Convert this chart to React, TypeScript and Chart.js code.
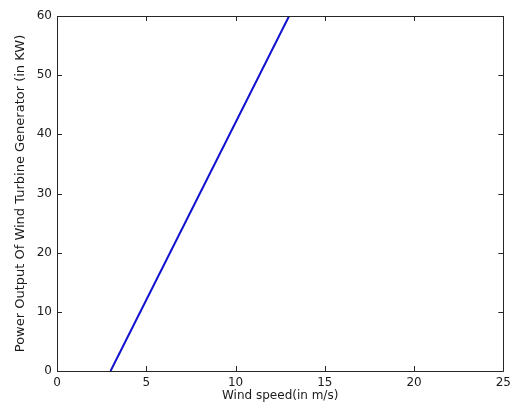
import React, { useEffect, useRef } from "react";
import { Chart, registerables } from "chart.js";

Chart.register(...registerables);

const windSpeed: number[] = [3, 13];
const powerOutput: number[] = [0, 60];
const xTicks: number[] = [0, 5, 10, 15, 20, 25];
const yTicks: number[] = [0, 10, 20, 30, 40, 50, 60];
const xTitle = "Wind speed(in m/s)";
const yTitle = "Power Output Of Wind Turbine Generator (in KW)";

const FONT = "'DejaVu Sans', sans-serif";
const AXIS_COLOR = "#262626";

const boxPlugin = {
  id: "matlabBox",
  afterDraw(chart: any) {
    const { ctx, chartArea, scales } = chart;
    const { left, right, top, bottom } = chartArea;
    ctx.save();
    ctx.strokeStyle = AXIS_COLOR;
    ctx.lineWidth = 1;
    ctx.beginPath();
    ctx.rect(Math.round(left) + 0.5, Math.round(top) + 0.5, Math.round(right - left), Math.round(bottom - top));
    ctx.stroke();
    const len = 5;
    ctx.beginPath();
    xTicks.forEach((v) => {
      const px = Math.round(scales.x.getPixelForValue(v)) + 0.5;
      ctx.moveTo(px, bottom);
      ctx.lineTo(px, bottom - len);
      ctx.moveTo(px, top);
      ctx.lineTo(px, top + len);
    });
    yTicks.forEach((v) => {
      const py = Math.round(scales.y.getPixelForValue(v)) + 0.5;
      ctx.moveTo(left, py);
      ctx.lineTo(left + len, py);
      ctx.moveTo(right, py);
      ctx.lineTo(right - len, py);
    });
    ctx.stroke();
    ctx.restore();
  },
};

export default function App() {
  const ref = useRef<HTMLCanvasElement | null>(null);
  useEffect(() => {
    if (!ref.current) return;
    const chart = new Chart(ref.current, {
      type: "scatter",
      data: {
        datasets: [
          {
            data: windSpeed.map((x, i) => ({ x, y: powerOutput[i] })),
            showLine: true,
            borderColor: "#1010d0",
            borderWidth: 2,
            pointRadius: 0,
            fill: false,
          },
        ],
      },
      options: {
        responsive: false,
        animation: false,
        devicePixelRatio: 1,
        layout: { padding: { top: 16, right: 8, left: 0, bottom: 0 } },
        plugins: { legend: { display: false }, tooltip: { enabled: false } },
        scales: {
          x: {
            type: "linear",
            min: 0,
            max: 25,
            afterFit: (s: any) => {
              s.height = 38;
            },
            afterBuildTicks: (s: any) => {
              s.ticks = xTicks.map((v) => ({ value: v }));
            },
            grid: { display: false, drawTicks: false },
            border: { display: false },
            ticks: {
              padding: 5,
              color: "#1a1a1a",
              font: { family: FONT, size: 12 },
              maxRotation: 0,
              autoSkip: false,
            },
            title: {
              display: true,
              text: xTitle,
              color: "#1a1a1a",
              font: { family: FONT, size: 12 },
              padding: { top: 0, bottom: 6 },
            },
          },
          y: {
            type: "linear",
            min: 0,
            max: 60,
            afterFit: (s: any) => {
              s.width = 57;
            },
            afterBuildTicks: (s: any) => {
              s.ticks = yTicks.map((v) => ({ value: v }));
            },
            grid: { display: false, drawTicks: false },
            border: { display: false },
            ticks: {
              padding: 5,
              color: "#1a1a1a",
              font: { family: FONT, size: 12 },
              autoSkip: false,
            },
            title: {
              display: true,
              text: yTitle,
              color: "#1a1a1a",
              font: { family: FONT, size: 13 },
              padding: { top: 13, bottom: 0 },
            },
          },
        },
      },
      plugins: [boxPlugin],
    } as any);
    return () => chart.destroy();
  }, []);
  return (
    <div style={{ position: "fixed", left: 0, top: 0, width: 516, height: 409, background: "#fff" }}>
      <canvas ref={ref} width={516} height={409} style={{ display: "block" }} />
    </div>
  );
}
